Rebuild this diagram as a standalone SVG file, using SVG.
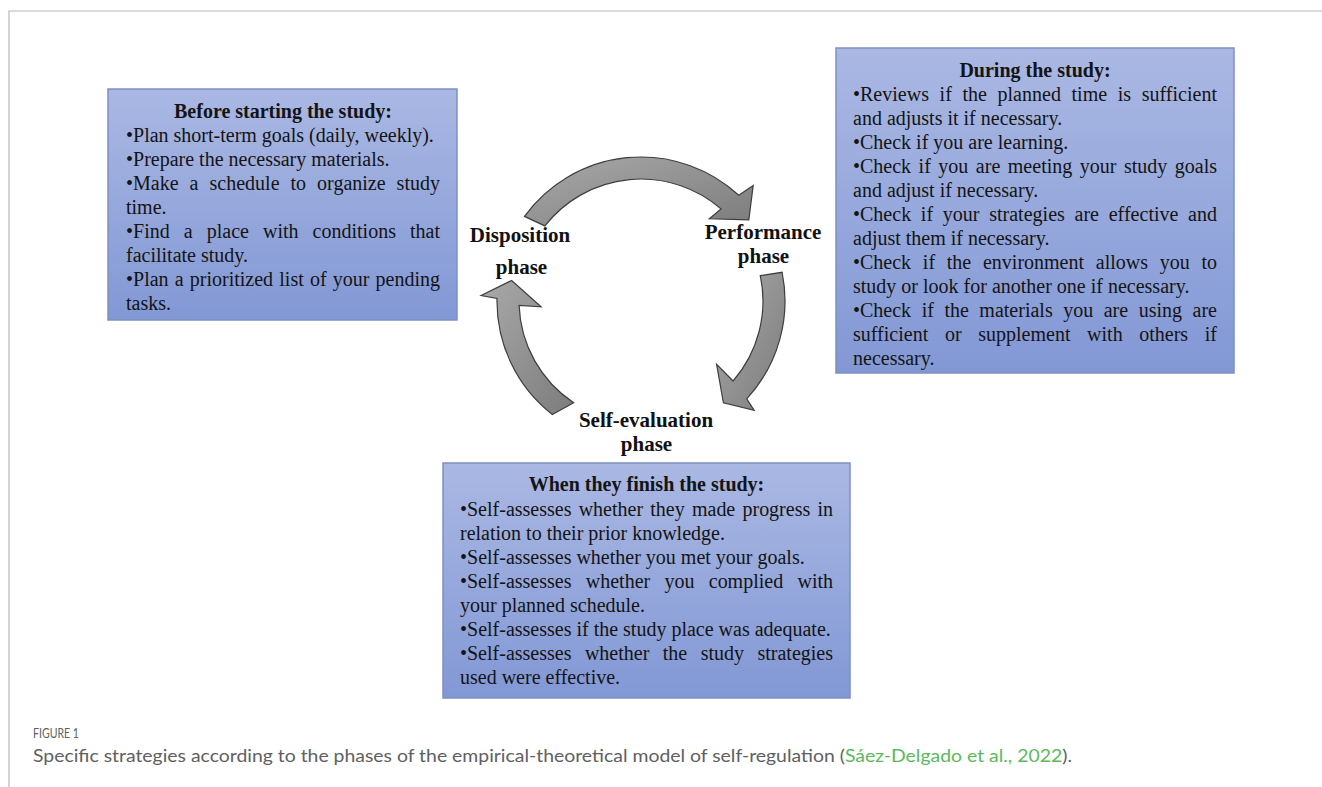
<svg xmlns="http://www.w3.org/2000/svg" width="1322" height="787" viewBox="0 0 1322 787">
<style>
.t{font-family:"Liberation Serif","Times New Roman",serif;font-size:20px;fill:#141414}
.b{font-weight:bold}
.ph{font-family:"Liberation Serif","Times New Roman",serif;font-size:21px;font-weight:bold;fill:#111;text-anchor:middle}
.mid{text-anchor:middle}
.box{fill:url(#boxg);stroke:#7d90c4;stroke-width:1.5}
.arr{fill:url(#arrg);stroke:#3e3e3e;stroke-width:1.2;stroke-linejoin:miter}
.frame{stroke:#b8b8b8;stroke-width:1.2;fill:none}
.cap{font-family:Lato,"Open Sans",sans-serif;fill:#606060}
</style>
<defs>
<linearGradient id="boxg" x1="0" y1="0" x2="0" y2="1">
<stop offset="0" stop-color="#aab8e3"/>
<stop offset="1" stop-color="#8298d5"/>
</linearGradient>
<linearGradient id="arrg" x1="0" y1="0" x2="1" y2="1">
<stop offset="0" stop-color="#a9a9a9"/>
<stop offset="1" stop-color="#7c7c7c"/>
</linearGradient>
</defs>
<rect width="1322" height="787" fill="#fff"/>
<path class="frame" d="M9,787 V11 H1322"/>

<g id="connectors">
<path class="arr" d="M524.5,216.4 A144,144 0 0 1 738.8,195.3 L753.2,185.4 L748.8,219.8 L709.4,218.8 L721,208.9 A122,122 0 0 0 544.9,225.9 Z"/>
<path class="arr" d="M782.1,272.3 A144,144 0 0 1 746.7,398.8 L754.2,410.4 L723.4,402.8 L716.6,364.3 L733.1,381 A122,122 0 0 0 760.3,275.6 Z"/>
<path class="arr" d="M552.3,414.5 A144,144 0 0 1 497,298.5 L481.1,295.5 L511.6,280.5 L541.1,306.8 L519.1,305.3 A122,122 0 0 0 573.7,402.7 Z"/>
</g>

<g id="node-disposition">
<text class="ph" x="520" y="242">Disposition</text>
<text class="ph" x="521.5" y="274">phase</text>
</g>
<g id="node-performance">
<text class="ph" x="763" y="239">Performance</text>
<text class="ph" x="763.5" y="263">phase</text>
</g>
<g id="node-self-evaluation">
<text class="ph" x="646" y="427">Self-evaluation</text>
<text class="ph" x="646.5" y="451">phase</text>
</g>

<g id="box-before">
<rect class="box" x="108" y="89" width="349" height="231"/>
<text class="t b mid" x="283" y="118">Before starting the study:</text>
<text class="t" x="126" y="142">•Plan short-term goals (daily, weekly).</text>
<text class="t" x="126" y="166">•Prepare the necessary materials.</text>
<text class="t" x="126" y="190" word-spacing="5.96" textLength="314" lengthAdjust="spacing">•Make a schedule to organize study</text>
<text class="t" x="126" y="214">time.</text>
<text class="t" x="126" y="238" word-spacing="9.07" textLength="314" lengthAdjust="spacing">•Find a place with conditions that</text>
<text class="t" x="126" y="262">facilitate study.</text>
<text class="t" x="126" y="286" word-spacing="1.17" textLength="314" lengthAdjust="spacing">•Plan a prioritized list of your pending</text>
<text class="t" x="126" y="310">tasks.</text>
</g>

<g id="box-during">
<rect class="box" x="836" y="48" width="398" height="325"/>
<text class="t b mid" x="1035" y="77">During the study:</text>
<text class="t" x="853" y="101" word-spacing="5.62" textLength="364" lengthAdjust="spacing">•Reviews if the planned time is sufficient</text>
<text class="t" x="853" y="125">and adjusts it if necessary.</text>
<text class="t" x="853" y="149">•Check if you are learning.</text>
<text class="t" x="853" y="173" word-spacing="2.51" textLength="364" lengthAdjust="spacing">•Check if you are meeting your study goals</text>
<text class="t" x="853" y="197">and adjust if necessary.</text>
<text class="t" x="853" y="221" word-spacing="4.7" textLength="364" lengthAdjust="spacing">•Check if your strategies are effective and</text>
<text class="t" x="853" y="245">adjust them if necessary.</text>
<text class="t" x="853" y="269" word-spacing="6.73" textLength="364" lengthAdjust="spacing">•Check if the environment allows you to</text>
<text class="t" x="853" y="293">study or look for another one if necessary.</text>
<text class="t" x="853" y="317" word-spacing="5.53" textLength="364" lengthAdjust="spacing">•Check if the materials you are using are</text>
<text class="t" x="853" y="341" word-spacing="11.58" textLength="364" lengthAdjust="spacing">sufficient or supplement with others if</text>
<text class="t" x="853" y="365">necessary.</text>
</g>

<g id="box-after">
<rect class="box" x="443" y="463" width="407" height="235"/>
<text class="t b mid" x="646.5" y="491">When they finish the study:</text>
<text class="t" x="460" y="516" word-spacing="2.22" textLength="373" lengthAdjust="spacing">•Self-assesses whether they made progress in</text>
<text class="t" x="460" y="540">relation to their prior knowledge.</text>
<text class="t" x="460" y="564">•Self-assesses whether you met your goals.</text>
<text class="t" x="460" y="588" word-spacing="9.3" textLength="373" lengthAdjust="spacing">•Self-assesses whether you complied with</text>
<text class="t" x="460" y="612">your planned schedule.</text>
<text class="t" x="460" y="636">•Self-assesses if the study place was adequate.</text>
<text class="t" x="460" y="660" word-spacing="8.46" textLength="373" lengthAdjust="spacing">•Self-assesses whether the study strategies</text>
<text class="t" x="460" y="684">used were effective.</text>
</g>

<g id="caption">
<text class="cap" x="33" y="738" font-size="14" textLength="46" lengthAdjust="spacingAndGlyphs">FIGURE 1</text>
<text class="cap" x="33" y="762" font-size="17" textLength="1039" lengthAdjust="spacingAndGlyphs">Specific strategies according to the phases of the empirical-theoretical model of self-regulation (<tspan fill="#5cb85c">Sáez-Delgado et al., 2022</tspan>).</text>
</g>
</svg>
